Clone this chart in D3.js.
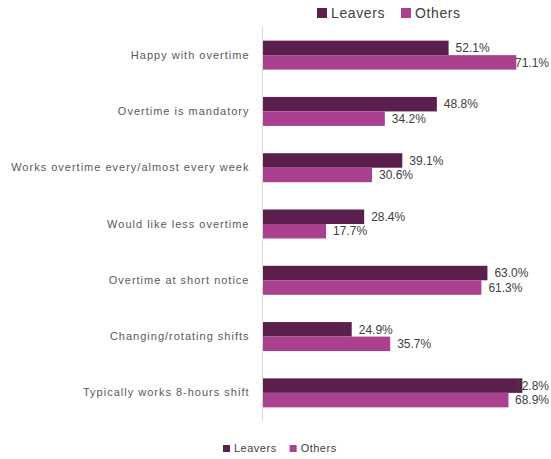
<!DOCTYPE html>
<html>
<head>
<meta charset="utf-8">
<script src="https://cdn.jsdelivr.net/npm/d3@7"></script>
<style>
    body { margin: 0; background: #fff; }
    text { font-family: "Liberation Sans", Arial, sans-serif; }
</style>
</head>
<body>
<script>
(function(){

    //chart data
    var categories = [
        "Happy with overtime",
        "Overtime is mandatory",
        "Works overtime every/almost every week",
        "Would like less overtime",
        "Overtime at short notice",
        "Changing/rotating shifts",
        "Typically works 8-hours shift"
    ];
    var seriesNames = ["Leavers", "Others"];
    var leavers = [52.1, 48.8, 39.1, 28.4, 63.0, 24.9, 72.8];
    var others = [71.1, 34.2, 30.6, 17.7, 61.3, 35.7, 68.9];
    var colors = ["#5a1f4c", "#a9418f"];

    var width = 551,
        height = 459;

    var svg = d3.select("body")
        .append("svg")
        .attr("width", width)
        .attr("height", height);

    //scales
    var xScale = d3.scaleLinear()
        .domain([0, 80])
        .range([263, 548]);

    var yScale = d3.scaleBand()
        .domain(categories)
        .range([27, 421])
        .paddingInner(0.485)
        .paddingOuter(0.2425);

    var subScale = d3.scaleBand()
        .domain(seriesNames)
        .range([0, yScale.bandwidth()]);

    //build rows for each bar
    var rows = [];
    categories.forEach(function(c, i) {
        rows.push({cat: c, series: "Leavers", value: leavers[i], color: colors[0]});
        rows.push({cat: c, series: "Others", value: others[i], color: colors[1]});
    });

    //bars
    svg.selectAll(".bar")
        .data(rows)
        .enter()
        .append("rect")
        .attr("class", "bar")
        .attr("x", xScale(0))
        .attr("y", function(d) { return yScale(d.cat) + subScale(d.series); })
        .attr("width", function(d) { return xScale(d.value) - xScale(0); })
        .attr("height", subScale.bandwidth())
        .attr("fill", function(d) { return d.color; });

    //category axis line
    var yAxis = d3.axisLeft(yScale).tickSize(0).tickPadding(13);
    var axisG = svg.append("g")
        .attr("transform", "translate(262.5,0)")
        .call(yAxis);
    axisG.select(".domain")
        .attr("d", "M0,27V421")
        .attr("stroke", "#d9d9d9");
    axisG.selectAll(".tick text")
        .attr("fill", "#595959")
        .style("font-size", "11px")
        .style("letter-spacing", "1px")
        .style("font-family", "'Liberation Sans', Arial, sans-serif");

    //value labels, pushed back inside the plot if they run over
    svg.selectAll(".val")
        .data(rows)
        .enter()
        .append("text")
        .attr("class", "val")
        .attr("y", function(d) { return yScale(d.cat) + subScale(d.series) + subScale.bandwidth() / 2; })
        .attr("dy", "0.35em")
        .attr("fill", "#404040")
        .style("font-size", "12px")
        .text(function(d) { return d.value.toFixed(1) + "%"; })
        .attr("x", function(d) {
            var w = this.getComputedTextLength();
            return Math.min(xScale(d.value) + 7, 549 - w);
        });

    //legends (top and bottom)
    function drawLegend(x0, y0, box, fontSize, gap, spacing) {
        var g = svg.append("g").attr("transform", "translate(" + x0 + "," + y0 + ")");
        var xPos = 0;
        seriesNames.forEach(function(name, i) {
            g.append("rect")
                .attr("x", xPos)
                .attr("y", -box / 2)
                .attr("width", box)
                .attr("height", box)
                .attr("fill", colors[i]);
            var t = g.append("text")
                .attr("x", xPos + box + 4)
                .attr("dy", "0.35em")
                .attr("fill", "#404040")
                .style("font-size", fontSize + "px")
                .style("letter-spacing", spacing + "px")
                .text(name);
            xPos += box + 4 + t.node().getComputedTextLength() + gap;
        });
    }
    drawLegend(317, 13, 10, 14, 16, 0.6);
    drawLegend(223, 448.5, 7, 11, 13, 0.5);

})();
</script>
</body>
</html>
